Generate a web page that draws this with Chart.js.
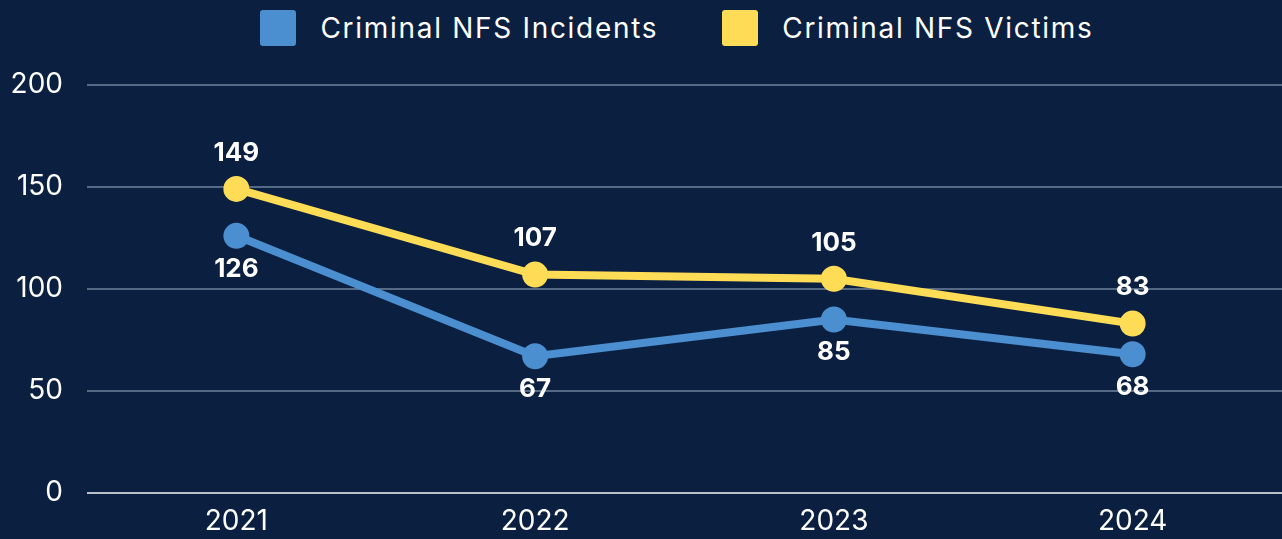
<!DOCTYPE html>
<html>
<head>
<meta charset="utf-8">
<script src="https://cdn.jsdelivr.net/npm/chart.js@4"></script>
<style>
  html, body { margin: 0; padding: 0; background: #0b2040; overflow: hidden; }
  body { width: 1282px; height: 539px; font-family: Inter, "Noto Sans", sans-serif; }
  .legend { height: 56px; display: flex; justify-content: center; align-items: center; gap: 64px; padding-left: 72px; box-sizing: border-box; }
  .legend-item { display: flex; align-items: center; color: #ffffff; font-size: 28px; letter-spacing: 1.7px; }
  .legend-box { width: 36px; height: 36px; border-radius: 3px; margin-right: 24px; }
  .chart-wrap { position: relative; width: 1282px; height: 495px; margin-top: -12px; }
  canvas { display: block; }
</style>
</head>
<body>
<div class="legend" id="legend"></div>
<div class="chart-wrap"><canvas id="nfsChart"></canvas></div>
<script>
  const years = ['2021', '2022', '2023', '2024'];
  const incidents = [126, 67, 85, 68];
  const victims = [149, 107, 105, 83];
  const yTicks = [0, 50, 100, 150, 200];

  const blue = '#4b8fd0';
  const yellow = '#ffdc55';
  const fontFamily = 'Inter, "Noto Sans", sans-serif';

  const seriesList = [
    { label: 'Criminal NFS Incidents', data: incidents, color: blue, labelPos: 'below' },
    { label: 'Criminal NFS Victims', data: victims, color: yellow, labelPos: 'above' }
  ];

  // html legend
  const legendEl = document.getElementById('legend');
  legendEl.innerHTML = seriesList.map(function (s) {
    return '<div class="legend-item"><span class="legend-box" style="background:' + s.color + '"></span>' + s.label + '</div>';
  }).join('');

  // point value labels
  const valueLabels = {
    id: 'valueLabels',
    afterDatasetsDraw: function (chart) {
      const ctx = chart.ctx;
      ctx.save();
      ctx.font = 'bold 26px ' + fontFamily;
      ctx.fillStyle = '#ffffff';
      ctx.textAlign = 'center';
      ctx.textBaseline = 'middle';
      chart.data.datasets.forEach(function (ds, i) {
        const meta = chart.getDatasetMeta(i);
        meta.data.forEach(function (pt, j) {
          const dy = ds.labelPos === 'above' ? -36 : 33;
          ctx.fillText(String(ds.data[j]), pt.x, pt.y + dy);
        });
      });
      ctx.restore();
    }
  };

  new Chart(document.getElementById('nfsChart'), {
    type: 'line',
    data: {
      labels: years,
      datasets: seriesList.map(function (s) {
        return {
          label: s.label,
          data: s.data,
          labelPos: s.labelPos,
          borderColor: s.color,
          backgroundColor: s.color,
          pointBackgroundColor: s.color,
          pointBorderColor: s.color,
          borderWidth: 8,
          pointRadius: 9,
          pointHoverRadius: 9,
          tension: 0,
          fill: false
        };
      }).reverse()
    },
    options: {
      responsive: true,
      maintainAspectRatio: false,
      animation: false,
      layout: { autoPadding: false, padding: { top: 2, right: 0, left: 0, bottom: 0 } },
      plugins: { legend: { display: false }, tooltip: { enabled: false } },
      scales: {
        x: {
          offset: true,
          afterFit: function (axis) { axis.height = 46; },
          grid: { display: false, drawTicks: false },
          border: { display: false },
          ticks: { color: '#ffffff', font: { size: 28, family: fontFamily }, padding: 12 }
        },
        y: {
          min: 0,
          max: 200,
          afterBuildTicks: function (axis) {
            axis.ticks = yTicks.map(function (v) { return { value: v }; });
          },
          afterFit: function (axis) { axis.width = 87; },
          grid: {
            drawTicks: false,
            lineWidth: 2,
            color: function (c) { return c.tick && c.tick.value === 0 ? '#b9c0cc' : 'rgba(150,165,190,0.55)'; }
          },
          border: { display: false },
          ticks: { color: '#ffffff', font: { size: 28, family: fontFamily }, padding: 24 }
        }
      }
    },
    plugins: [valueLabels]
  });
</script>
</body>
</html>
